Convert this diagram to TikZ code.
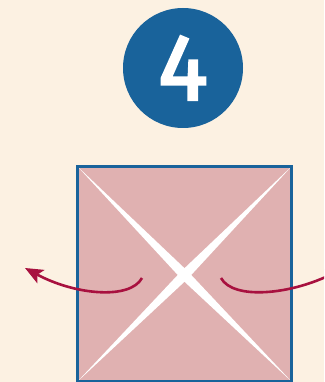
\documentclass[tikz,border=0pt]{standalone}
\usepackage{fontspec}
\newfontfamily\badgefont[FakeBold=2.5]{Fira Sans}
\usetikzlibrary{arrows.meta}
\definecolor{cream}{HTML}{FCF1E2}
\definecolor{stepblue}{HTML}{19639B}
\definecolor{rosefill}{HTML}{E0B1B1}
\definecolor{crimson}{HTML}{A8113F}

\begin{document}
\begin{tikzpicture}[x=1pt,y=-1pt,
    badge/.style={circle,fill=stepblue,minimum size=120pt,inner sep=0pt,text=white,
      font=\badgefont\fontsize{94}{94}\selectfont},
    card/.style={fill=rosefill,minimum width=213pt,minimum height=214pt,inner sep=0pt},
    turn/.style={crimson,line width=2.6pt,-{Stealth[length=18pt,width=15pt,inset=4pt]}}]
    \useasboundingbox (0,0) rectangle (324,382);
    \fill[cream] (0,0) rectangle (324,382);
    \clip (0,0) rectangle (324,382);
    % badge with the step number
    \node[badge] (badge) at (183,68) {4};
    % folded square
    \node[card] (card) at (184.5,274) {};
    \coordinate (mid) at (184.5,275);
    \fill[white] (card.north west) -- ([shift={(-3.5,3.5)}]mid) -- (card.south east)
      -- ([shift={(3.5,-3.5)}]mid) -- cycle;
    \fill[white] (card.north east) -- ([shift={(3.5,3.5)}]mid) -- (card.south west)
      -- ([shift={(-3.5,-3.5)}]mid) -- cycle;
    \draw[stepblue,line width=2.8pt] (card.north west) rectangle (card.south east);
    % turning arrows
    \coordinate (ls) at (142,278);
    \coordinate (lt) at (25,268);
    \coordinate (rs) at (221,278);
    \coordinate (rt) at (344,268);
    \draw[turn] (ls) .. controls (130,300) and (75,295) .. (lt);
    \draw[turn] (rs) .. controls (233,300) and (290,295) .. (rt);
\end{tikzpicture}
\end{document}
